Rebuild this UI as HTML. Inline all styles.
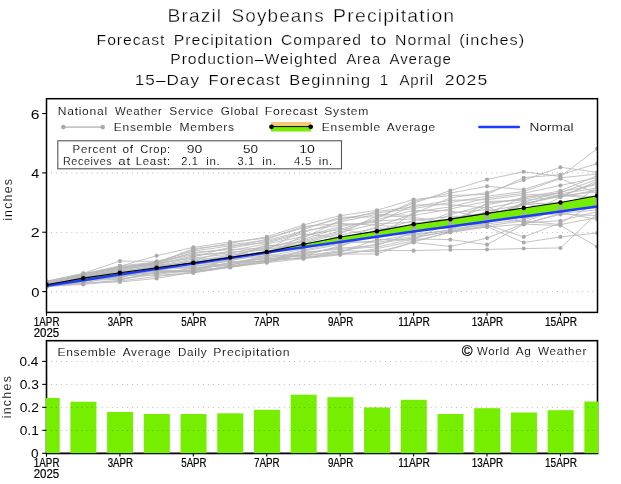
<!DOCTYPE html>
<html><head><meta charset="utf-8"><style>html,body{margin:0;padding:0;background:#fff;}svg{display:block;will-change:transform;}text{font-family:"Liberation Sans", sans-serif;}</style></head><body>
<svg width="621" height="484" viewBox="0 0 621 484" font-family='"Liberation Sans", sans-serif'>
<rect width="621" height="484" fill="#fff"/>
<defs><clipPath id="c1"><rect x="46.5" y="98.7" width="551" height="213.7"/></clipPath><clipPath id="c2"><rect x="46.5" y="340.7" width="551" height="112.5"/></clipPath><clipPath id="c2b"><rect x="45.7" y="340.7" width="552.6" height="113.3"/></clipPath></defs>
<g id="top" clip-path="url(#c1)">
<polyline fill="none" stroke="#b8b8b8" stroke-width="0.85" points="46.50,281.53 83.21,273.64 119.92,267.75 156.63,262.96 193.34,248.64 230.05,244.62 266.76,240.45 303.47,230.91 340.18,224.95 376.89,222.42 413.60,205.01 450.31,204.70 487.02,207.99 523.73,201.32 560.44,206.99 597.15,200.70"/>
<polyline fill="none" stroke="#b8b8b8" stroke-width="0.85" points="46.50,286.52 83.21,284.43 119.92,281.03 156.63,276.50 193.34,272.77 230.05,267.38 266.76,262.60 303.47,258.71 340.18,254.83 376.89,248.61 413.60,241.05 450.31,232.40 487.02,226.54 523.73,242.57 560.44,236.89 597.15,233.00"/>
<polyline fill="none" stroke="#b8b8b8" stroke-width="0.85" points="46.50,284.11 83.21,275.09 119.92,273.18 156.63,273.69 193.34,268.09 230.05,264.90 266.76,257.93 303.47,251.14 340.18,244.50 376.89,229.35 413.60,231.21 450.31,214.68 487.02,204.77 523.73,197.82 560.44,190.84 597.15,175.80"/>
<polyline fill="none" stroke="#b8b8b8" stroke-width="0.85" points="46.50,286.38 83.21,278.91 119.92,277.64 156.63,269.86 193.34,267.35 230.05,265.45 266.76,254.74 303.47,256.54 340.18,250.38 376.89,251.98 413.60,242.57 450.31,246.45 487.02,238.08 523.73,223.66 560.44,214.46 597.15,186.38"/>
<polyline fill="none" stroke="#b8b8b8" stroke-width="0.85" points="46.50,286.24 83.21,277.56 119.92,269.67 156.63,263.77 193.34,252.38 230.05,249.60 266.76,248.13 303.47,237.92 340.18,220.36 376.89,211.61 413.60,206.81 450.31,200.23 487.02,199.73 523.73,194.89 560.44,193.69 597.15,188.15"/>
<polyline fill="none" stroke="#b8b8b8" stroke-width="0.85" points="46.50,285.21 83.21,283.01 119.92,275.89 156.63,268.28 193.34,262.18 230.05,256.15 266.76,247.09 303.47,246.74 340.18,240.63 376.89,226.56 413.60,213.82 450.31,197.90 487.02,192.63 523.73,180.08 560.44,167.22 597.15,172.30"/>
<polyline fill="none" stroke="#b8b8b8" stroke-width="0.85" points="46.50,286.52 83.21,282.50 119.92,282.03 156.63,278.45 193.34,272.03 230.05,265.94 266.76,262.05 303.47,250.09 340.18,243.24 376.89,240.88 413.60,233.98 450.31,230.58 487.02,221.83 523.73,203.01 560.44,212.35 597.15,219.54"/>
<polyline fill="none" stroke="#b8b8b8" stroke-width="0.85" points="46.50,285.39 83.21,280.76 119.92,276.46 156.63,271.01 193.34,272.37 230.05,266.74 266.76,262.39 303.47,254.05 340.18,246.95 376.89,230.76 413.60,220.50 450.31,216.46 487.02,215.44 523.73,203.65 560.44,196.46 597.15,182.84"/>
<polyline fill="none" stroke="#b8b8b8" stroke-width="0.85" points="46.50,286.46 83.21,283.59 119.92,280.26 156.63,272.27 193.34,271.16 230.05,262.27 266.76,258.65 303.47,258.38 340.18,251.43 376.89,243.90 413.60,237.80 450.31,231.27 487.02,225.81 523.73,220.88 560.44,224.60 597.15,217.49"/>
<polyline fill="none" stroke="#b8b8b8" stroke-width="0.85" points="46.50,281.14 83.21,273.36 119.92,261.10 156.63,261.40 193.34,251.16 230.05,245.91 266.76,242.74 303.47,233.78 340.18,237.94 376.89,232.17 413.60,226.80 450.31,212.82 487.02,209.55 523.73,214.46 560.44,214.05 597.15,215.54"/>
<polyline fill="none" stroke="#b8b8b8" stroke-width="0.85" points="46.50,284.36 83.21,275.99 119.92,266.81 156.63,262.56 193.34,249.91 230.05,243.31 266.76,236.89 303.47,224.93 340.18,215.66 376.89,210.27 413.60,199.51 450.31,195.51 487.02,194.44 523.73,177.68 560.44,174.69 597.15,163.63"/>
<polyline fill="none" stroke="#b8b8b8" stroke-width="0.85" points="46.50,286.07 83.21,279.62 119.92,278.89 156.63,274.49 193.34,270.07 230.05,267.27 266.76,261.12 303.47,257.87 340.18,254.19 376.89,253.93 413.60,241.93 450.31,232.21 487.02,227.02 523.73,224.13 560.44,225.52 597.15,246.75"/>
<polyline fill="none" stroke="#b8b8b8" stroke-width="0.85" points="46.50,285.96 83.21,281.16 119.92,273.71 156.63,268.79 193.34,266.58 230.05,260.71 266.76,253.87 303.47,244.35 340.18,239.30 376.89,233.60 413.60,235.30 450.31,229.78 487.02,214.02 523.73,196.41 560.44,195.90 597.15,191.71"/>
<polyline fill="none" stroke="#b8b8b8" stroke-width="0.85" points="46.50,286.42 83.21,280.37 119.92,279.55 156.63,271.63 193.34,271.63 230.05,266.37 266.76,259.33 303.47,254.93 340.18,252.43 376.89,239.40 413.60,240.05 450.31,221.35 487.02,206.39 523.73,222.95 560.44,220.74 597.15,211.74"/>
<polyline fill="none" stroke="#b8b8b8" stroke-width="0.85" points="46.50,286.51 83.21,282.03 119.92,272.15 156.63,265.47 193.34,259.16 230.05,258.08 266.76,244.95 303.47,247.89 340.18,241.95 376.89,242.38 413.60,236.58 450.31,231.82 487.02,222.95 523.73,204.46 560.44,202.50 597.15,204.34"/>
<polyline fill="none" stroke="#b8b8b8" stroke-width="0.85" points="46.50,286.16 83.21,276.29 119.92,269.18 156.63,265.03 193.34,263.12 230.05,257.14 266.76,251.10 303.47,243.12 340.18,233.76 376.89,215.63 413.60,217.21 450.31,222.82 487.02,203.12 523.73,199.11 560.44,192.81 597.15,179.31"/>
<polyline fill="none" stroke="#b8b8b8" stroke-width="0.85" points="46.50,283.84 83.21,274.50 119.92,268.70 156.63,261.78 193.34,253.58 230.05,248.40 266.76,241.61 303.47,232.35 340.18,221.90 376.89,214.28 413.60,215.53 450.31,208.90 487.02,201.44 523.73,200.27 560.44,196.88 597.15,181.07"/>
<polyline fill="none" stroke="#b8b8b8" stroke-width="0.85" points="46.50,285.55 83.21,277.89 119.92,278.25 156.63,266.36 193.34,261.20 230.05,255.14 266.76,252.05 303.47,240.57 340.18,230.88 376.89,219.69 413.60,210.36 450.31,210.89 487.02,218.14 523.73,204.14 560.44,195.25 597.15,198.89"/>
<polyline fill="none" stroke="#b8b8b8" stroke-width="0.85" points="46.50,282.95 83.21,274.21 119.92,266.35 156.63,255.72 193.34,247.35 230.05,241.97 266.76,238.09 303.47,227.95 340.18,218.80 376.89,212.94 413.60,208.59 450.31,202.50 487.02,196.23 523.73,191.50 560.44,178.58 597.15,193.50"/>
<polyline fill="none" stroke="#b8b8b8" stroke-width="0.85" points="46.50,285.02 83.21,278.22 119.92,270.65 156.63,270.43 193.34,270.64 230.05,258.99 266.76,252.97 303.47,239.26 340.18,227.95 376.89,237.93 413.60,212.10 450.31,206.83 487.02,197.99 523.73,193.25 560.44,185.46 597.15,177.56"/>
<polyline fill="none" stroke="#b8b8b8" stroke-width="0.85" points="46.50,284.59 83.21,278.56 119.92,271.65 156.63,266.83 193.34,264.03 230.05,261.51 266.76,261.62 303.47,253.12 340.18,248.13 376.89,245.44 413.60,232.62 450.31,218.17 487.02,212.57 523.73,218.04 560.44,211.22 597.15,206.17"/>
<polyline fill="none" stroke="#b8b8b8" stroke-width="0.85" points="46.50,282.27 83.21,273.93 119.92,265.89 156.63,262.17 193.34,254.75 230.05,253.02 266.76,246.03 303.47,241.86 340.18,232.33 376.89,223.79 413.60,222.12 450.31,226.72 487.02,211.07 523.73,204.59 560.44,194.51 597.15,197.09"/>
<polyline fill="none" stroke="#b8b8b8" stroke-width="0.85" points="46.50,283.26 83.21,274.79 119.92,268.22 156.63,263.36 193.34,258.10 230.05,254.09 266.76,249.14 303.47,245.56 340.18,236.57 376.89,236.48 413.60,225.26 450.31,219.80 487.02,219.42 523.73,202.23 560.44,191.85 597.15,184.60"/>
<polyline fill="none" stroke="#b8b8b8" stroke-width="0.85" points="46.50,286.32 83.21,279.99 119.92,275.33 156.63,275.40 193.34,272.63 230.05,267.05 266.76,259.97 303.47,252.15 340.18,249.27 376.89,247.00 413.60,238.96 450.31,239.58 487.02,244.66 523.73,224.33 560.44,213.31 597.15,209.87"/>
<polyline fill="none" stroke="#b8b8b8" stroke-width="0.85" points="46.50,284.81 83.21,279.26 119.92,277.04 156.63,267.30 193.34,260.20 230.05,250.77 266.76,243.86 303.47,236.56 340.18,226.46 376.89,221.05 413.60,218.87 450.31,225.51 487.02,223.99 523.73,219.55 560.44,209.94 597.15,208.01"/>
<polyline fill="none" stroke="#b8b8b8" stroke-width="0.85" points="46.50,283.56 83.21,275.68 119.92,270.15 156.63,264.18 193.34,255.89 230.05,251.91 266.76,250.13 303.47,229.44 340.18,217.24 376.89,216.97 413.60,203.19 450.31,190.54 487.02,179.48 523.73,171.70 560.44,176.46 597.15,148.68"/>
<polyline fill="none" stroke="#b8b8b8" stroke-width="0.85" points="46.50,281.91 83.21,275.38 119.92,267.28 156.63,264.60 193.34,257.01 230.05,247.17 266.76,239.28 303.47,226.45 340.18,223.43 376.89,225.17 413.60,228.30 450.31,227.84 487.02,220.66 523.73,216.34 560.44,197.12 597.15,189.93"/>
<polyline fill="none" stroke="#b8b8b8" stroke-width="0.85" points="46.50,285.83 83.21,276.92 119.92,274.78 156.63,272.95 193.34,269.45 230.05,264.31 266.76,260.57 303.47,257.24 340.18,253.36 376.89,250.25 413.60,250.64 450.31,249.74 487.02,249.44 523.73,248.55 560.44,247.95 597.15,213.62"/>
<polyline fill="none" stroke="#b8b8b8" stroke-width="0.85" points="46.50,285.70 83.21,277.24 119.92,272.67 156.63,269.32 193.34,265.76 230.05,263.68 266.76,257.18 303.47,255.77 340.18,245.74 376.89,235.03 413.60,223.70 450.31,228.86 487.02,224.95 523.73,236.89 560.44,222.91 597.15,202.52"/>
<polyline fill="none" stroke="#b8b8b8" stroke-width="0.85" points="46.50,282.62 83.21,276.60 119.92,271.14 156.63,265.91 193.34,268.79 230.05,263.00 266.76,256.40 303.47,249.01 340.18,235.17 376.89,227.95 413.60,229.77 450.31,224.21 487.02,216.81 523.73,222.02 560.44,208.52 597.15,195.29"/>
<polyline fill="none" stroke="#b8b8b8" stroke-width="0.85" points="46.50,286.49 83.21,281.59 119.92,274.24 156.63,267.79 193.34,264.91 230.05,259.87 266.76,255.58 303.47,235.18 340.18,229.42 376.89,218.33 413.60,201.36 450.31,193.06 487.02,186.35 523.73,189.64 560.44,177.83 597.15,174.05"/>
<line x1="51.2" x2="597" y1="291.70" y2="291.70" stroke="#222" stroke-width="0.6" stroke-dasharray="0.8 4.26" opacity="0.7"/>
<line x1="51.2" x2="597" y1="232.34" y2="232.34" stroke="#222" stroke-width="0.6" stroke-dasharray="0.8 4.26" opacity="0.7"/>
<line x1="51.2" x2="597" y1="172.98" y2="172.98" stroke="#222" stroke-width="0.6" stroke-dasharray="0.8 4.26" opacity="0.7"/>
<polygon fill="#76ee00" points="46.50,284.83 83.21,278.16 119.92,272.83 156.63,267.75 193.34,262.67 230.05,257.51 266.76,251.89 303.47,244.32 340.18,237.07 376.89,231.15 413.60,224.24 450.31,219.16 487.02,213.34 523.73,208.07 560.44,202.50 597.15,195.81 597.15,206.57 560.44,211.51 523.73,216.47 487.02,221.46 450.31,226.49 413.60,231.57 376.89,236.71 340.18,241.92 303.47,247.21 266.76,252.56 230.05,257.98 193.34,263.47 156.63,269.00 119.92,274.58 83.21,280.19 46.50,285.81"/>
<circle cx="46.50" cy="286.52" r="2.05" fill="#aaaaaa"/>
<circle cx="46.50" cy="286.52" r="2.05" fill="#aaaaaa"/>
<circle cx="46.50" cy="286.51" r="2.05" fill="#aaaaaa"/>
<circle cx="46.50" cy="286.49" r="2.05" fill="#aaaaaa"/>
<circle cx="46.50" cy="286.46" r="2.05" fill="#aaaaaa"/>
<circle cx="46.50" cy="286.42" r="2.05" fill="#aaaaaa"/>
<circle cx="46.50" cy="286.38" r="2.05" fill="#aaaaaa"/>
<circle cx="46.50" cy="286.32" r="2.05" fill="#aaaaaa"/>
<circle cx="46.50" cy="286.24" r="2.05" fill="#aaaaaa"/>
<circle cx="46.50" cy="286.16" r="2.05" fill="#aaaaaa"/>
<circle cx="46.50" cy="286.07" r="2.05" fill="#aaaaaa"/>
<circle cx="46.50" cy="285.96" r="2.05" fill="#aaaaaa"/>
<circle cx="46.50" cy="285.83" r="2.05" fill="#aaaaaa"/>
<circle cx="46.50" cy="285.70" r="2.05" fill="#aaaaaa"/>
<circle cx="46.50" cy="285.55" r="2.05" fill="#aaaaaa"/>
<circle cx="46.50" cy="285.39" r="2.05" fill="#aaaaaa"/>
<circle cx="46.50" cy="285.21" r="2.05" fill="#aaaaaa"/>
<circle cx="46.50" cy="285.02" r="2.05" fill="#aaaaaa"/>
<circle cx="46.50" cy="284.81" r="2.05" fill="#aaaaaa"/>
<circle cx="46.50" cy="284.59" r="2.05" fill="#aaaaaa"/>
<circle cx="46.50" cy="284.36" r="2.05" fill="#aaaaaa"/>
<circle cx="46.50" cy="284.11" r="2.05" fill="#aaaaaa"/>
<circle cx="46.50" cy="283.84" r="2.05" fill="#aaaaaa"/>
<circle cx="46.50" cy="283.56" r="2.05" fill="#aaaaaa"/>
<circle cx="46.50" cy="283.26" r="2.05" fill="#aaaaaa"/>
<circle cx="46.50" cy="282.95" r="2.05" fill="#aaaaaa"/>
<circle cx="46.50" cy="282.62" r="2.05" fill="#aaaaaa"/>
<circle cx="46.50" cy="282.27" r="2.05" fill="#aaaaaa"/>
<circle cx="46.50" cy="281.91" r="2.05" fill="#aaaaaa"/>
<circle cx="46.50" cy="281.53" r="2.05" fill="#aaaaaa"/>
<circle cx="46.50" cy="281.14" r="2.05" fill="#aaaaaa"/>
<circle cx="83.21" cy="284.43" r="2.05" fill="#aaaaaa"/>
<circle cx="83.21" cy="283.59" r="2.05" fill="#aaaaaa"/>
<circle cx="83.21" cy="283.01" r="2.05" fill="#aaaaaa"/>
<circle cx="83.21" cy="282.50" r="2.05" fill="#aaaaaa"/>
<circle cx="83.21" cy="282.03" r="2.05" fill="#aaaaaa"/>
<circle cx="83.21" cy="281.59" r="2.05" fill="#aaaaaa"/>
<circle cx="83.21" cy="281.16" r="2.05" fill="#aaaaaa"/>
<circle cx="83.21" cy="280.76" r="2.05" fill="#aaaaaa"/>
<circle cx="83.21" cy="280.37" r="2.05" fill="#aaaaaa"/>
<circle cx="83.21" cy="279.99" r="2.05" fill="#aaaaaa"/>
<circle cx="83.21" cy="279.62" r="2.05" fill="#aaaaaa"/>
<circle cx="83.21" cy="279.26" r="2.05" fill="#aaaaaa"/>
<circle cx="83.21" cy="278.91" r="2.05" fill="#aaaaaa"/>
<circle cx="83.21" cy="278.56" r="2.05" fill="#aaaaaa"/>
<circle cx="83.21" cy="278.22" r="2.05" fill="#aaaaaa"/>
<circle cx="83.21" cy="277.89" r="2.05" fill="#aaaaaa"/>
<circle cx="83.21" cy="277.56" r="2.05" fill="#aaaaaa"/>
<circle cx="83.21" cy="277.24" r="2.05" fill="#aaaaaa"/>
<circle cx="83.21" cy="276.92" r="2.05" fill="#aaaaaa"/>
<circle cx="83.21" cy="276.60" r="2.05" fill="#aaaaaa"/>
<circle cx="83.21" cy="276.29" r="2.05" fill="#aaaaaa"/>
<circle cx="83.21" cy="275.99" r="2.05" fill="#aaaaaa"/>
<circle cx="83.21" cy="275.68" r="2.05" fill="#aaaaaa"/>
<circle cx="83.21" cy="275.38" r="2.05" fill="#aaaaaa"/>
<circle cx="83.21" cy="275.09" r="2.05" fill="#aaaaaa"/>
<circle cx="83.21" cy="274.79" r="2.05" fill="#aaaaaa"/>
<circle cx="83.21" cy="274.50" r="2.05" fill="#aaaaaa"/>
<circle cx="83.21" cy="274.21" r="2.05" fill="#aaaaaa"/>
<circle cx="83.21" cy="273.93" r="2.05" fill="#aaaaaa"/>
<circle cx="83.21" cy="273.64" r="2.05" fill="#aaaaaa"/>
<circle cx="83.21" cy="273.36" r="2.05" fill="#aaaaaa"/>
<circle cx="119.92" cy="282.03" r="2.05" fill="#aaaaaa"/>
<circle cx="119.92" cy="281.03" r="2.05" fill="#aaaaaa"/>
<circle cx="119.92" cy="280.26" r="2.05" fill="#aaaaaa"/>
<circle cx="119.92" cy="279.55" r="2.05" fill="#aaaaaa"/>
<circle cx="119.92" cy="278.89" r="2.05" fill="#aaaaaa"/>
<circle cx="119.92" cy="278.25" r="2.05" fill="#aaaaaa"/>
<circle cx="119.92" cy="277.64" r="2.05" fill="#aaaaaa"/>
<circle cx="119.92" cy="277.04" r="2.05" fill="#aaaaaa"/>
<circle cx="119.92" cy="276.46" r="2.05" fill="#aaaaaa"/>
<circle cx="119.92" cy="275.89" r="2.05" fill="#aaaaaa"/>
<circle cx="119.92" cy="275.33" r="2.05" fill="#aaaaaa"/>
<circle cx="119.92" cy="274.78" r="2.05" fill="#aaaaaa"/>
<circle cx="119.92" cy="274.24" r="2.05" fill="#aaaaaa"/>
<circle cx="119.92" cy="273.71" r="2.05" fill="#aaaaaa"/>
<circle cx="119.92" cy="273.18" r="2.05" fill="#aaaaaa"/>
<circle cx="119.92" cy="272.67" r="2.05" fill="#aaaaaa"/>
<circle cx="119.92" cy="272.15" r="2.05" fill="#aaaaaa"/>
<circle cx="119.92" cy="271.65" r="2.05" fill="#aaaaaa"/>
<circle cx="119.92" cy="271.14" r="2.05" fill="#aaaaaa"/>
<circle cx="119.92" cy="270.65" r="2.05" fill="#aaaaaa"/>
<circle cx="119.92" cy="270.15" r="2.05" fill="#aaaaaa"/>
<circle cx="119.92" cy="269.67" r="2.05" fill="#aaaaaa"/>
<circle cx="119.92" cy="269.18" r="2.05" fill="#aaaaaa"/>
<circle cx="119.92" cy="268.70" r="2.05" fill="#aaaaaa"/>
<circle cx="119.92" cy="268.22" r="2.05" fill="#aaaaaa"/>
<circle cx="119.92" cy="267.75" r="2.05" fill="#aaaaaa"/>
<circle cx="119.92" cy="267.28" r="2.05" fill="#aaaaaa"/>
<circle cx="119.92" cy="266.81" r="2.05" fill="#aaaaaa"/>
<circle cx="119.92" cy="266.35" r="2.05" fill="#aaaaaa"/>
<circle cx="119.92" cy="265.89" r="2.05" fill="#aaaaaa"/>
<circle cx="119.92" cy="261.10" r="2.05" fill="#aaaaaa"/>
<circle cx="156.63" cy="278.45" r="2.05" fill="#aaaaaa"/>
<circle cx="156.63" cy="276.50" r="2.05" fill="#aaaaaa"/>
<circle cx="156.63" cy="275.40" r="2.05" fill="#aaaaaa"/>
<circle cx="156.63" cy="274.49" r="2.05" fill="#aaaaaa"/>
<circle cx="156.63" cy="273.69" r="2.05" fill="#aaaaaa"/>
<circle cx="156.63" cy="272.95" r="2.05" fill="#aaaaaa"/>
<circle cx="156.63" cy="272.27" r="2.05" fill="#aaaaaa"/>
<circle cx="156.63" cy="271.63" r="2.05" fill="#aaaaaa"/>
<circle cx="156.63" cy="271.01" r="2.05" fill="#aaaaaa"/>
<circle cx="156.63" cy="270.43" r="2.05" fill="#aaaaaa"/>
<circle cx="156.63" cy="269.86" r="2.05" fill="#aaaaaa"/>
<circle cx="156.63" cy="269.32" r="2.05" fill="#aaaaaa"/>
<circle cx="156.63" cy="268.79" r="2.05" fill="#aaaaaa"/>
<circle cx="156.63" cy="268.28" r="2.05" fill="#aaaaaa"/>
<circle cx="156.63" cy="267.79" r="2.05" fill="#aaaaaa"/>
<circle cx="156.63" cy="267.30" r="2.05" fill="#aaaaaa"/>
<circle cx="156.63" cy="266.83" r="2.05" fill="#aaaaaa"/>
<circle cx="156.63" cy="266.36" r="2.05" fill="#aaaaaa"/>
<circle cx="156.63" cy="265.91" r="2.05" fill="#aaaaaa"/>
<circle cx="156.63" cy="265.47" r="2.05" fill="#aaaaaa"/>
<circle cx="156.63" cy="265.03" r="2.05" fill="#aaaaaa"/>
<circle cx="156.63" cy="264.60" r="2.05" fill="#aaaaaa"/>
<circle cx="156.63" cy="264.18" r="2.05" fill="#aaaaaa"/>
<circle cx="156.63" cy="263.77" r="2.05" fill="#aaaaaa"/>
<circle cx="156.63" cy="263.36" r="2.05" fill="#aaaaaa"/>
<circle cx="156.63" cy="262.96" r="2.05" fill="#aaaaaa"/>
<circle cx="156.63" cy="262.56" r="2.05" fill="#aaaaaa"/>
<circle cx="156.63" cy="262.17" r="2.05" fill="#aaaaaa"/>
<circle cx="156.63" cy="261.78" r="2.05" fill="#aaaaaa"/>
<circle cx="156.63" cy="261.40" r="2.05" fill="#aaaaaa"/>
<circle cx="156.63" cy="255.72" r="2.05" fill="#aaaaaa"/>
<circle cx="193.34" cy="272.77" r="2.05" fill="#aaaaaa"/>
<circle cx="193.34" cy="272.63" r="2.05" fill="#aaaaaa"/>
<circle cx="193.34" cy="272.37" r="2.05" fill="#aaaaaa"/>
<circle cx="193.34" cy="272.03" r="2.05" fill="#aaaaaa"/>
<circle cx="193.34" cy="271.63" r="2.05" fill="#aaaaaa"/>
<circle cx="193.34" cy="271.16" r="2.05" fill="#aaaaaa"/>
<circle cx="193.34" cy="270.64" r="2.05" fill="#aaaaaa"/>
<circle cx="193.34" cy="270.07" r="2.05" fill="#aaaaaa"/>
<circle cx="193.34" cy="269.45" r="2.05" fill="#aaaaaa"/>
<circle cx="193.34" cy="268.79" r="2.05" fill="#aaaaaa"/>
<circle cx="193.34" cy="268.09" r="2.05" fill="#aaaaaa"/>
<circle cx="193.34" cy="267.35" r="2.05" fill="#aaaaaa"/>
<circle cx="193.34" cy="266.58" r="2.05" fill="#aaaaaa"/>
<circle cx="193.34" cy="265.76" r="2.05" fill="#aaaaaa"/>
<circle cx="193.34" cy="264.91" r="2.05" fill="#aaaaaa"/>
<circle cx="193.34" cy="264.03" r="2.05" fill="#aaaaaa"/>
<circle cx="193.34" cy="263.12" r="2.05" fill="#aaaaaa"/>
<circle cx="193.34" cy="262.18" r="2.05" fill="#aaaaaa"/>
<circle cx="193.34" cy="261.20" r="2.05" fill="#aaaaaa"/>
<circle cx="193.34" cy="260.20" r="2.05" fill="#aaaaaa"/>
<circle cx="193.34" cy="259.16" r="2.05" fill="#aaaaaa"/>
<circle cx="193.34" cy="258.10" r="2.05" fill="#aaaaaa"/>
<circle cx="193.34" cy="257.01" r="2.05" fill="#aaaaaa"/>
<circle cx="193.34" cy="255.89" r="2.05" fill="#aaaaaa"/>
<circle cx="193.34" cy="254.75" r="2.05" fill="#aaaaaa"/>
<circle cx="193.34" cy="253.58" r="2.05" fill="#aaaaaa"/>
<circle cx="193.34" cy="252.38" r="2.05" fill="#aaaaaa"/>
<circle cx="193.34" cy="251.16" r="2.05" fill="#aaaaaa"/>
<circle cx="193.34" cy="249.91" r="2.05" fill="#aaaaaa"/>
<circle cx="193.34" cy="248.64" r="2.05" fill="#aaaaaa"/>
<circle cx="193.34" cy="247.35" r="2.05" fill="#aaaaaa"/>
<circle cx="230.05" cy="267.38" r="2.05" fill="#aaaaaa"/>
<circle cx="230.05" cy="267.27" r="2.05" fill="#aaaaaa"/>
<circle cx="230.05" cy="267.05" r="2.05" fill="#aaaaaa"/>
<circle cx="230.05" cy="266.74" r="2.05" fill="#aaaaaa"/>
<circle cx="230.05" cy="266.37" r="2.05" fill="#aaaaaa"/>
<circle cx="230.05" cy="265.94" r="2.05" fill="#aaaaaa"/>
<circle cx="230.05" cy="265.45" r="2.05" fill="#aaaaaa"/>
<circle cx="230.05" cy="264.90" r="2.05" fill="#aaaaaa"/>
<circle cx="230.05" cy="264.31" r="2.05" fill="#aaaaaa"/>
<circle cx="230.05" cy="263.68" r="2.05" fill="#aaaaaa"/>
<circle cx="230.05" cy="263.00" r="2.05" fill="#aaaaaa"/>
<circle cx="230.05" cy="262.27" r="2.05" fill="#aaaaaa"/>
<circle cx="230.05" cy="261.51" r="2.05" fill="#aaaaaa"/>
<circle cx="230.05" cy="260.71" r="2.05" fill="#aaaaaa"/>
<circle cx="230.05" cy="259.87" r="2.05" fill="#aaaaaa"/>
<circle cx="230.05" cy="258.99" r="2.05" fill="#aaaaaa"/>
<circle cx="230.05" cy="258.08" r="2.05" fill="#aaaaaa"/>
<circle cx="230.05" cy="257.14" r="2.05" fill="#aaaaaa"/>
<circle cx="230.05" cy="256.15" r="2.05" fill="#aaaaaa"/>
<circle cx="230.05" cy="255.14" r="2.05" fill="#aaaaaa"/>
<circle cx="230.05" cy="254.09" r="2.05" fill="#aaaaaa"/>
<circle cx="230.05" cy="253.02" r="2.05" fill="#aaaaaa"/>
<circle cx="230.05" cy="251.91" r="2.05" fill="#aaaaaa"/>
<circle cx="230.05" cy="250.77" r="2.05" fill="#aaaaaa"/>
<circle cx="230.05" cy="249.60" r="2.05" fill="#aaaaaa"/>
<circle cx="230.05" cy="248.40" r="2.05" fill="#aaaaaa"/>
<circle cx="230.05" cy="247.17" r="2.05" fill="#aaaaaa"/>
<circle cx="230.05" cy="245.91" r="2.05" fill="#aaaaaa"/>
<circle cx="230.05" cy="244.62" r="2.05" fill="#aaaaaa"/>
<circle cx="230.05" cy="243.31" r="2.05" fill="#aaaaaa"/>
<circle cx="230.05" cy="241.97" r="2.05" fill="#aaaaaa"/>
<circle cx="266.76" cy="262.60" r="2.05" fill="#aaaaaa"/>
<circle cx="266.76" cy="262.39" r="2.05" fill="#aaaaaa"/>
<circle cx="266.76" cy="262.05" r="2.05" fill="#aaaaaa"/>
<circle cx="266.76" cy="261.62" r="2.05" fill="#aaaaaa"/>
<circle cx="266.76" cy="261.12" r="2.05" fill="#aaaaaa"/>
<circle cx="266.76" cy="260.57" r="2.05" fill="#aaaaaa"/>
<circle cx="266.76" cy="259.97" r="2.05" fill="#aaaaaa"/>
<circle cx="266.76" cy="259.33" r="2.05" fill="#aaaaaa"/>
<circle cx="266.76" cy="258.65" r="2.05" fill="#aaaaaa"/>
<circle cx="266.76" cy="257.93" r="2.05" fill="#aaaaaa"/>
<circle cx="266.76" cy="257.18" r="2.05" fill="#aaaaaa"/>
<circle cx="266.76" cy="256.40" r="2.05" fill="#aaaaaa"/>
<circle cx="266.76" cy="255.58" r="2.05" fill="#aaaaaa"/>
<circle cx="266.76" cy="254.74" r="2.05" fill="#aaaaaa"/>
<circle cx="266.76" cy="253.87" r="2.05" fill="#aaaaaa"/>
<circle cx="266.76" cy="252.97" r="2.05" fill="#aaaaaa"/>
<circle cx="266.76" cy="252.05" r="2.05" fill="#aaaaaa"/>
<circle cx="266.76" cy="251.10" r="2.05" fill="#aaaaaa"/>
<circle cx="266.76" cy="250.13" r="2.05" fill="#aaaaaa"/>
<circle cx="266.76" cy="249.14" r="2.05" fill="#aaaaaa"/>
<circle cx="266.76" cy="248.13" r="2.05" fill="#aaaaaa"/>
<circle cx="266.76" cy="247.09" r="2.05" fill="#aaaaaa"/>
<circle cx="266.76" cy="246.03" r="2.05" fill="#aaaaaa"/>
<circle cx="266.76" cy="244.95" r="2.05" fill="#aaaaaa"/>
<circle cx="266.76" cy="243.86" r="2.05" fill="#aaaaaa"/>
<circle cx="266.76" cy="242.74" r="2.05" fill="#aaaaaa"/>
<circle cx="266.76" cy="241.61" r="2.05" fill="#aaaaaa"/>
<circle cx="266.76" cy="240.45" r="2.05" fill="#aaaaaa"/>
<circle cx="266.76" cy="239.28" r="2.05" fill="#aaaaaa"/>
<circle cx="266.76" cy="238.09" r="2.05" fill="#aaaaaa"/>
<circle cx="266.76" cy="236.89" r="2.05" fill="#aaaaaa"/>
<circle cx="303.47" cy="258.71" r="2.05" fill="#aaaaaa"/>
<circle cx="303.47" cy="258.38" r="2.05" fill="#aaaaaa"/>
<circle cx="303.47" cy="257.87" r="2.05" fill="#aaaaaa"/>
<circle cx="303.47" cy="257.24" r="2.05" fill="#aaaaaa"/>
<circle cx="303.47" cy="256.54" r="2.05" fill="#aaaaaa"/>
<circle cx="303.47" cy="255.77" r="2.05" fill="#aaaaaa"/>
<circle cx="303.47" cy="254.93" r="2.05" fill="#aaaaaa"/>
<circle cx="303.47" cy="254.05" r="2.05" fill="#aaaaaa"/>
<circle cx="303.47" cy="253.12" r="2.05" fill="#aaaaaa"/>
<circle cx="303.47" cy="252.15" r="2.05" fill="#aaaaaa"/>
<circle cx="303.47" cy="251.14" r="2.05" fill="#aaaaaa"/>
<circle cx="303.47" cy="250.09" r="2.05" fill="#aaaaaa"/>
<circle cx="303.47" cy="249.01" r="2.05" fill="#aaaaaa"/>
<circle cx="303.47" cy="247.89" r="2.05" fill="#aaaaaa"/>
<circle cx="303.47" cy="246.74" r="2.05" fill="#aaaaaa"/>
<circle cx="303.47" cy="245.56" r="2.05" fill="#aaaaaa"/>
<circle cx="303.47" cy="244.35" r="2.05" fill="#aaaaaa"/>
<circle cx="303.47" cy="243.12" r="2.05" fill="#aaaaaa"/>
<circle cx="303.47" cy="241.86" r="2.05" fill="#aaaaaa"/>
<circle cx="303.47" cy="240.57" r="2.05" fill="#aaaaaa"/>
<circle cx="303.47" cy="239.26" r="2.05" fill="#aaaaaa"/>
<circle cx="303.47" cy="237.92" r="2.05" fill="#aaaaaa"/>
<circle cx="303.47" cy="236.56" r="2.05" fill="#aaaaaa"/>
<circle cx="303.47" cy="235.18" r="2.05" fill="#aaaaaa"/>
<circle cx="303.47" cy="233.78" r="2.05" fill="#aaaaaa"/>
<circle cx="303.47" cy="232.35" r="2.05" fill="#aaaaaa"/>
<circle cx="303.47" cy="230.91" r="2.05" fill="#aaaaaa"/>
<circle cx="303.47" cy="229.44" r="2.05" fill="#aaaaaa"/>
<circle cx="303.47" cy="227.95" r="2.05" fill="#aaaaaa"/>
<circle cx="303.47" cy="226.45" r="2.05" fill="#aaaaaa"/>
<circle cx="303.47" cy="224.93" r="2.05" fill="#aaaaaa"/>
<circle cx="340.18" cy="254.83" r="2.05" fill="#aaaaaa"/>
<circle cx="340.18" cy="254.19" r="2.05" fill="#aaaaaa"/>
<circle cx="340.18" cy="253.36" r="2.05" fill="#aaaaaa"/>
<circle cx="340.18" cy="252.43" r="2.05" fill="#aaaaaa"/>
<circle cx="340.18" cy="251.43" r="2.05" fill="#aaaaaa"/>
<circle cx="340.18" cy="250.38" r="2.05" fill="#aaaaaa"/>
<circle cx="340.18" cy="249.27" r="2.05" fill="#aaaaaa"/>
<circle cx="340.18" cy="248.13" r="2.05" fill="#aaaaaa"/>
<circle cx="340.18" cy="246.95" r="2.05" fill="#aaaaaa"/>
<circle cx="340.18" cy="245.74" r="2.05" fill="#aaaaaa"/>
<circle cx="340.18" cy="244.50" r="2.05" fill="#aaaaaa"/>
<circle cx="340.18" cy="243.24" r="2.05" fill="#aaaaaa"/>
<circle cx="340.18" cy="241.95" r="2.05" fill="#aaaaaa"/>
<circle cx="340.18" cy="240.63" r="2.05" fill="#aaaaaa"/>
<circle cx="340.18" cy="239.30" r="2.05" fill="#aaaaaa"/>
<circle cx="340.18" cy="237.94" r="2.05" fill="#aaaaaa"/>
<circle cx="340.18" cy="236.57" r="2.05" fill="#aaaaaa"/>
<circle cx="340.18" cy="235.17" r="2.05" fill="#aaaaaa"/>
<circle cx="340.18" cy="233.76" r="2.05" fill="#aaaaaa"/>
<circle cx="340.18" cy="232.33" r="2.05" fill="#aaaaaa"/>
<circle cx="340.18" cy="230.88" r="2.05" fill="#aaaaaa"/>
<circle cx="340.18" cy="229.42" r="2.05" fill="#aaaaaa"/>
<circle cx="340.18" cy="227.95" r="2.05" fill="#aaaaaa"/>
<circle cx="340.18" cy="226.46" r="2.05" fill="#aaaaaa"/>
<circle cx="340.18" cy="224.95" r="2.05" fill="#aaaaaa"/>
<circle cx="340.18" cy="223.43" r="2.05" fill="#aaaaaa"/>
<circle cx="340.18" cy="221.90" r="2.05" fill="#aaaaaa"/>
<circle cx="340.18" cy="220.36" r="2.05" fill="#aaaaaa"/>
<circle cx="340.18" cy="218.80" r="2.05" fill="#aaaaaa"/>
<circle cx="340.18" cy="217.24" r="2.05" fill="#aaaaaa"/>
<circle cx="340.18" cy="215.66" r="2.05" fill="#aaaaaa"/>
<circle cx="376.89" cy="253.93" r="2.05" fill="#aaaaaa"/>
<circle cx="376.89" cy="251.98" r="2.05" fill="#aaaaaa"/>
<circle cx="376.89" cy="250.25" r="2.05" fill="#aaaaaa"/>
<circle cx="376.89" cy="248.61" r="2.05" fill="#aaaaaa"/>
<circle cx="376.89" cy="247.00" r="2.05" fill="#aaaaaa"/>
<circle cx="376.89" cy="245.44" r="2.05" fill="#aaaaaa"/>
<circle cx="376.89" cy="243.90" r="2.05" fill="#aaaaaa"/>
<circle cx="376.89" cy="242.38" r="2.05" fill="#aaaaaa"/>
<circle cx="376.89" cy="240.88" r="2.05" fill="#aaaaaa"/>
<circle cx="376.89" cy="239.40" r="2.05" fill="#aaaaaa"/>
<circle cx="376.89" cy="237.93" r="2.05" fill="#aaaaaa"/>
<circle cx="376.89" cy="236.48" r="2.05" fill="#aaaaaa"/>
<circle cx="376.89" cy="235.03" r="2.05" fill="#aaaaaa"/>
<circle cx="376.89" cy="233.60" r="2.05" fill="#aaaaaa"/>
<circle cx="376.89" cy="232.17" r="2.05" fill="#aaaaaa"/>
<circle cx="376.89" cy="230.76" r="2.05" fill="#aaaaaa"/>
<circle cx="376.89" cy="229.35" r="2.05" fill="#aaaaaa"/>
<circle cx="376.89" cy="227.95" r="2.05" fill="#aaaaaa"/>
<circle cx="376.89" cy="226.56" r="2.05" fill="#aaaaaa"/>
<circle cx="376.89" cy="225.17" r="2.05" fill="#aaaaaa"/>
<circle cx="376.89" cy="223.79" r="2.05" fill="#aaaaaa"/>
<circle cx="376.89" cy="222.42" r="2.05" fill="#aaaaaa"/>
<circle cx="376.89" cy="221.05" r="2.05" fill="#aaaaaa"/>
<circle cx="376.89" cy="219.69" r="2.05" fill="#aaaaaa"/>
<circle cx="376.89" cy="218.33" r="2.05" fill="#aaaaaa"/>
<circle cx="376.89" cy="216.97" r="2.05" fill="#aaaaaa"/>
<circle cx="376.89" cy="215.63" r="2.05" fill="#aaaaaa"/>
<circle cx="376.89" cy="214.28" r="2.05" fill="#aaaaaa"/>
<circle cx="376.89" cy="212.94" r="2.05" fill="#aaaaaa"/>
<circle cx="376.89" cy="211.61" r="2.05" fill="#aaaaaa"/>
<circle cx="376.89" cy="210.27" r="2.05" fill="#aaaaaa"/>
<circle cx="413.60" cy="250.64" r="2.05" fill="#aaaaaa"/>
<circle cx="413.60" cy="242.57" r="2.05" fill="#aaaaaa"/>
<circle cx="413.60" cy="241.93" r="2.05" fill="#aaaaaa"/>
<circle cx="413.60" cy="241.05" r="2.05" fill="#aaaaaa"/>
<circle cx="413.60" cy="240.05" r="2.05" fill="#aaaaaa"/>
<circle cx="413.60" cy="238.96" r="2.05" fill="#aaaaaa"/>
<circle cx="413.60" cy="237.80" r="2.05" fill="#aaaaaa"/>
<circle cx="413.60" cy="236.58" r="2.05" fill="#aaaaaa"/>
<circle cx="413.60" cy="235.30" r="2.05" fill="#aaaaaa"/>
<circle cx="413.60" cy="233.98" r="2.05" fill="#aaaaaa"/>
<circle cx="413.60" cy="232.62" r="2.05" fill="#aaaaaa"/>
<circle cx="413.60" cy="231.21" r="2.05" fill="#aaaaaa"/>
<circle cx="413.60" cy="229.77" r="2.05" fill="#aaaaaa"/>
<circle cx="413.60" cy="228.30" r="2.05" fill="#aaaaaa"/>
<circle cx="413.60" cy="226.80" r="2.05" fill="#aaaaaa"/>
<circle cx="413.60" cy="225.26" r="2.05" fill="#aaaaaa"/>
<circle cx="413.60" cy="223.70" r="2.05" fill="#aaaaaa"/>
<circle cx="413.60" cy="222.12" r="2.05" fill="#aaaaaa"/>
<circle cx="413.60" cy="220.50" r="2.05" fill="#aaaaaa"/>
<circle cx="413.60" cy="218.87" r="2.05" fill="#aaaaaa"/>
<circle cx="413.60" cy="217.21" r="2.05" fill="#aaaaaa"/>
<circle cx="413.60" cy="215.53" r="2.05" fill="#aaaaaa"/>
<circle cx="413.60" cy="213.82" r="2.05" fill="#aaaaaa"/>
<circle cx="413.60" cy="212.10" r="2.05" fill="#aaaaaa"/>
<circle cx="413.60" cy="210.36" r="2.05" fill="#aaaaaa"/>
<circle cx="413.60" cy="208.59" r="2.05" fill="#aaaaaa"/>
<circle cx="413.60" cy="206.81" r="2.05" fill="#aaaaaa"/>
<circle cx="413.60" cy="205.01" r="2.05" fill="#aaaaaa"/>
<circle cx="413.60" cy="203.19" r="2.05" fill="#aaaaaa"/>
<circle cx="413.60" cy="201.36" r="2.05" fill="#aaaaaa"/>
<circle cx="413.60" cy="199.51" r="2.05" fill="#aaaaaa"/>
<circle cx="450.31" cy="249.74" r="2.05" fill="#aaaaaa"/>
<circle cx="450.31" cy="246.45" r="2.05" fill="#aaaaaa"/>
<circle cx="450.31" cy="239.58" r="2.05" fill="#aaaaaa"/>
<circle cx="450.31" cy="232.40" r="2.05" fill="#aaaaaa"/>
<circle cx="450.31" cy="232.21" r="2.05" fill="#aaaaaa"/>
<circle cx="450.31" cy="231.82" r="2.05" fill="#aaaaaa"/>
<circle cx="450.31" cy="231.27" r="2.05" fill="#aaaaaa"/>
<circle cx="450.31" cy="230.58" r="2.05" fill="#aaaaaa"/>
<circle cx="450.31" cy="229.78" r="2.05" fill="#aaaaaa"/>
<circle cx="450.31" cy="228.86" r="2.05" fill="#aaaaaa"/>
<circle cx="450.31" cy="227.84" r="2.05" fill="#aaaaaa"/>
<circle cx="450.31" cy="226.72" r="2.05" fill="#aaaaaa"/>
<circle cx="450.31" cy="225.51" r="2.05" fill="#aaaaaa"/>
<circle cx="450.31" cy="224.21" r="2.05" fill="#aaaaaa"/>
<circle cx="450.31" cy="222.82" r="2.05" fill="#aaaaaa"/>
<circle cx="450.31" cy="221.35" r="2.05" fill="#aaaaaa"/>
<circle cx="450.31" cy="219.80" r="2.05" fill="#aaaaaa"/>
<circle cx="450.31" cy="218.17" r="2.05" fill="#aaaaaa"/>
<circle cx="450.31" cy="216.46" r="2.05" fill="#aaaaaa"/>
<circle cx="450.31" cy="214.68" r="2.05" fill="#aaaaaa"/>
<circle cx="450.31" cy="212.82" r="2.05" fill="#aaaaaa"/>
<circle cx="450.31" cy="210.89" r="2.05" fill="#aaaaaa"/>
<circle cx="450.31" cy="208.90" r="2.05" fill="#aaaaaa"/>
<circle cx="450.31" cy="206.83" r="2.05" fill="#aaaaaa"/>
<circle cx="450.31" cy="204.70" r="2.05" fill="#aaaaaa"/>
<circle cx="450.31" cy="202.50" r="2.05" fill="#aaaaaa"/>
<circle cx="450.31" cy="200.23" r="2.05" fill="#aaaaaa"/>
<circle cx="450.31" cy="197.90" r="2.05" fill="#aaaaaa"/>
<circle cx="450.31" cy="195.51" r="2.05" fill="#aaaaaa"/>
<circle cx="450.31" cy="193.06" r="2.05" fill="#aaaaaa"/>
<circle cx="450.31" cy="190.54" r="2.05" fill="#aaaaaa"/>
<circle cx="487.02" cy="249.44" r="2.05" fill="#aaaaaa"/>
<circle cx="487.02" cy="244.66" r="2.05" fill="#aaaaaa"/>
<circle cx="487.02" cy="238.08" r="2.05" fill="#aaaaaa"/>
<circle cx="487.02" cy="227.02" r="2.05" fill="#aaaaaa"/>
<circle cx="487.02" cy="226.54" r="2.05" fill="#aaaaaa"/>
<circle cx="487.02" cy="225.81" r="2.05" fill="#aaaaaa"/>
<circle cx="487.02" cy="224.95" r="2.05" fill="#aaaaaa"/>
<circle cx="487.02" cy="223.99" r="2.05" fill="#aaaaaa"/>
<circle cx="487.02" cy="222.95" r="2.05" fill="#aaaaaa"/>
<circle cx="487.02" cy="221.83" r="2.05" fill="#aaaaaa"/>
<circle cx="487.02" cy="220.66" r="2.05" fill="#aaaaaa"/>
<circle cx="487.02" cy="219.42" r="2.05" fill="#aaaaaa"/>
<circle cx="487.02" cy="218.14" r="2.05" fill="#aaaaaa"/>
<circle cx="487.02" cy="216.81" r="2.05" fill="#aaaaaa"/>
<circle cx="487.02" cy="215.44" r="2.05" fill="#aaaaaa"/>
<circle cx="487.02" cy="214.02" r="2.05" fill="#aaaaaa"/>
<circle cx="487.02" cy="212.57" r="2.05" fill="#aaaaaa"/>
<circle cx="487.02" cy="211.07" r="2.05" fill="#aaaaaa"/>
<circle cx="487.02" cy="209.55" r="2.05" fill="#aaaaaa"/>
<circle cx="487.02" cy="207.99" r="2.05" fill="#aaaaaa"/>
<circle cx="487.02" cy="206.39" r="2.05" fill="#aaaaaa"/>
<circle cx="487.02" cy="204.77" r="2.05" fill="#aaaaaa"/>
<circle cx="487.02" cy="203.12" r="2.05" fill="#aaaaaa"/>
<circle cx="487.02" cy="201.44" r="2.05" fill="#aaaaaa"/>
<circle cx="487.02" cy="199.73" r="2.05" fill="#aaaaaa"/>
<circle cx="487.02" cy="197.99" r="2.05" fill="#aaaaaa"/>
<circle cx="487.02" cy="196.23" r="2.05" fill="#aaaaaa"/>
<circle cx="487.02" cy="194.44" r="2.05" fill="#aaaaaa"/>
<circle cx="487.02" cy="192.63" r="2.05" fill="#aaaaaa"/>
<circle cx="487.02" cy="186.35" r="2.05" fill="#aaaaaa"/>
<circle cx="487.02" cy="179.48" r="2.05" fill="#aaaaaa"/>
<circle cx="523.73" cy="248.55" r="2.05" fill="#aaaaaa"/>
<circle cx="523.73" cy="242.57" r="2.05" fill="#aaaaaa"/>
<circle cx="523.73" cy="236.89" r="2.05" fill="#aaaaaa"/>
<circle cx="523.73" cy="224.33" r="2.05" fill="#aaaaaa"/>
<circle cx="523.73" cy="224.13" r="2.05" fill="#aaaaaa"/>
<circle cx="523.73" cy="223.66" r="2.05" fill="#aaaaaa"/>
<circle cx="523.73" cy="222.95" r="2.05" fill="#aaaaaa"/>
<circle cx="523.73" cy="222.02" r="2.05" fill="#aaaaaa"/>
<circle cx="523.73" cy="220.88" r="2.05" fill="#aaaaaa"/>
<circle cx="523.73" cy="219.55" r="2.05" fill="#aaaaaa"/>
<circle cx="523.73" cy="218.04" r="2.05" fill="#aaaaaa"/>
<circle cx="523.73" cy="216.34" r="2.05" fill="#aaaaaa"/>
<circle cx="523.73" cy="214.46" r="2.05" fill="#aaaaaa"/>
<circle cx="523.73" cy="204.59" r="2.05" fill="#aaaaaa"/>
<circle cx="523.73" cy="204.46" r="2.05" fill="#aaaaaa"/>
<circle cx="523.73" cy="204.14" r="2.05" fill="#aaaaaa"/>
<circle cx="523.73" cy="203.65" r="2.05" fill="#aaaaaa"/>
<circle cx="523.73" cy="203.01" r="2.05" fill="#aaaaaa"/>
<circle cx="523.73" cy="202.23" r="2.05" fill="#aaaaaa"/>
<circle cx="523.73" cy="201.32" r="2.05" fill="#aaaaaa"/>
<circle cx="523.73" cy="200.27" r="2.05" fill="#aaaaaa"/>
<circle cx="523.73" cy="199.11" r="2.05" fill="#aaaaaa"/>
<circle cx="523.73" cy="197.82" r="2.05" fill="#aaaaaa"/>
<circle cx="523.73" cy="196.41" r="2.05" fill="#aaaaaa"/>
<circle cx="523.73" cy="194.89" r="2.05" fill="#aaaaaa"/>
<circle cx="523.73" cy="193.25" r="2.05" fill="#aaaaaa"/>
<circle cx="523.73" cy="191.50" r="2.05" fill="#aaaaaa"/>
<circle cx="523.73" cy="189.64" r="2.05" fill="#aaaaaa"/>
<circle cx="523.73" cy="180.08" r="2.05" fill="#aaaaaa"/>
<circle cx="523.73" cy="177.68" r="2.05" fill="#aaaaaa"/>
<circle cx="523.73" cy="171.70" r="2.05" fill="#aaaaaa"/>
<circle cx="560.44" cy="247.95" r="2.05" fill="#aaaaaa"/>
<circle cx="560.44" cy="236.89" r="2.05" fill="#aaaaaa"/>
<circle cx="560.44" cy="225.52" r="2.05" fill="#aaaaaa"/>
<circle cx="560.44" cy="224.60" r="2.05" fill="#aaaaaa"/>
<circle cx="560.44" cy="222.91" r="2.05" fill="#aaaaaa"/>
<circle cx="560.44" cy="220.74" r="2.05" fill="#aaaaaa"/>
<circle cx="560.44" cy="214.46" r="2.05" fill="#aaaaaa"/>
<circle cx="560.44" cy="214.05" r="2.05" fill="#aaaaaa"/>
<circle cx="560.44" cy="213.31" r="2.05" fill="#aaaaaa"/>
<circle cx="560.44" cy="212.35" r="2.05" fill="#aaaaaa"/>
<circle cx="560.44" cy="211.22" r="2.05" fill="#aaaaaa"/>
<circle cx="560.44" cy="209.94" r="2.05" fill="#aaaaaa"/>
<circle cx="560.44" cy="208.52" r="2.05" fill="#aaaaaa"/>
<circle cx="560.44" cy="206.99" r="2.05" fill="#aaaaaa"/>
<circle cx="560.44" cy="202.50" r="2.05" fill="#aaaaaa"/>
<circle cx="560.44" cy="197.12" r="2.05" fill="#aaaaaa"/>
<circle cx="560.44" cy="196.88" r="2.05" fill="#aaaaaa"/>
<circle cx="560.44" cy="196.46" r="2.05" fill="#aaaaaa"/>
<circle cx="560.44" cy="195.90" r="2.05" fill="#aaaaaa"/>
<circle cx="560.44" cy="195.25" r="2.05" fill="#aaaaaa"/>
<circle cx="560.44" cy="194.51" r="2.05" fill="#aaaaaa"/>
<circle cx="560.44" cy="193.69" r="2.05" fill="#aaaaaa"/>
<circle cx="560.44" cy="192.81" r="2.05" fill="#aaaaaa"/>
<circle cx="560.44" cy="191.85" r="2.05" fill="#aaaaaa"/>
<circle cx="560.44" cy="190.84" r="2.05" fill="#aaaaaa"/>
<circle cx="560.44" cy="185.46" r="2.05" fill="#aaaaaa"/>
<circle cx="560.44" cy="178.58" r="2.05" fill="#aaaaaa"/>
<circle cx="560.44" cy="177.83" r="2.05" fill="#aaaaaa"/>
<circle cx="560.44" cy="176.46" r="2.05" fill="#aaaaaa"/>
<circle cx="560.44" cy="174.69" r="2.05" fill="#aaaaaa"/>
<circle cx="560.44" cy="167.22" r="2.05" fill="#aaaaaa"/>
<circle cx="597.15" cy="246.75" r="2.05" fill="#aaaaaa"/>
<circle cx="597.15" cy="233.00" r="2.05" fill="#aaaaaa"/>
<circle cx="597.15" cy="219.54" r="2.05" fill="#aaaaaa"/>
<circle cx="597.15" cy="217.49" r="2.05" fill="#aaaaaa"/>
<circle cx="597.15" cy="215.54" r="2.05" fill="#aaaaaa"/>
<circle cx="597.15" cy="213.62" r="2.05" fill="#aaaaaa"/>
<circle cx="597.15" cy="211.74" r="2.05" fill="#aaaaaa"/>
<circle cx="597.15" cy="209.87" r="2.05" fill="#aaaaaa"/>
<circle cx="597.15" cy="208.01" r="2.05" fill="#aaaaaa"/>
<circle cx="597.15" cy="206.17" r="2.05" fill="#aaaaaa"/>
<circle cx="597.15" cy="204.34" r="2.05" fill="#aaaaaa"/>
<circle cx="597.15" cy="202.52" r="2.05" fill="#aaaaaa"/>
<circle cx="597.15" cy="200.70" r="2.05" fill="#aaaaaa"/>
<circle cx="597.15" cy="198.89" r="2.05" fill="#aaaaaa"/>
<circle cx="597.15" cy="197.09" r="2.05" fill="#aaaaaa"/>
<circle cx="597.15" cy="195.29" r="2.05" fill="#aaaaaa"/>
<circle cx="597.15" cy="193.50" r="2.05" fill="#aaaaaa"/>
<circle cx="597.15" cy="191.71" r="2.05" fill="#aaaaaa"/>
<circle cx="597.15" cy="189.93" r="2.05" fill="#aaaaaa"/>
<circle cx="597.15" cy="188.15" r="2.05" fill="#aaaaaa"/>
<circle cx="597.15" cy="186.38" r="2.05" fill="#aaaaaa"/>
<circle cx="597.15" cy="184.60" r="2.05" fill="#aaaaaa"/>
<circle cx="597.15" cy="182.84" r="2.05" fill="#aaaaaa"/>
<circle cx="597.15" cy="181.07" r="2.05" fill="#aaaaaa"/>
<circle cx="597.15" cy="179.31" r="2.05" fill="#aaaaaa"/>
<circle cx="597.15" cy="177.56" r="2.05" fill="#aaaaaa"/>
<circle cx="597.15" cy="175.80" r="2.05" fill="#aaaaaa"/>
<circle cx="597.15" cy="174.05" r="2.05" fill="#aaaaaa"/>
<circle cx="597.15" cy="172.30" r="2.05" fill="#aaaaaa"/>
<circle cx="597.15" cy="163.63" r="2.05" fill="#aaaaaa"/>
<circle cx="597.15" cy="148.68" r="2.05" fill="#aaaaaa"/>
<polyline fill="none" stroke="#1e3cff" stroke-width="2.5" points="46.50,285.81 83.21,280.19 119.92,274.58 156.63,269.00 193.34,263.47 230.05,257.98 266.76,252.56 303.47,247.21 340.18,241.92 376.89,236.71 413.60,231.57 450.31,226.49 487.02,221.46 523.73,216.47 560.44,211.51 597.15,206.57"/>
<polyline fill="none" stroke="#000" stroke-width="1.1" points="46.50,284.83 83.21,278.16 119.92,272.83 156.63,267.75 193.34,262.67 230.05,257.51 266.76,251.89 303.47,244.32 340.18,237.07 376.89,231.15 413.60,224.24 450.31,219.16 487.02,213.34 523.73,208.07 560.44,202.50 597.15,195.81"/>
<circle cx="46.50" cy="284.83" r="2.25" fill="#000"/>
<circle cx="83.21" cy="278.16" r="2.25" fill="#000"/>
<circle cx="119.92" cy="272.83" r="2.25" fill="#000"/>
<circle cx="156.63" cy="267.75" r="2.25" fill="#000"/>
<circle cx="193.34" cy="262.67" r="2.25" fill="#000"/>
<circle cx="230.05" cy="257.51" r="2.25" fill="#000"/>
<circle cx="266.76" cy="251.89" r="2.25" fill="#000"/>
<circle cx="303.47" cy="244.32" r="2.25" fill="#000"/>
<circle cx="340.18" cy="237.07" r="2.25" fill="#000"/>
<circle cx="376.89" cy="231.15" r="2.25" fill="#000"/>
<circle cx="413.60" cy="224.24" r="2.25" fill="#000"/>
<circle cx="450.31" cy="219.16" r="2.25" fill="#000"/>
<circle cx="487.02" cy="213.34" r="2.25" fill="#000"/>
<circle cx="523.73" cy="208.07" r="2.25" fill="#000"/>
<circle cx="560.44" cy="202.50" r="2.25" fill="#000"/>
<circle cx="597.15" cy="195.81" r="2.25" fill="#000"/>
</g>
<line x1="63.3" x2="102.7" y1="127.1" y2="127.1" stroke="#b0b0b0" stroke-width="1.2"/>
<circle cx="63.3" cy="127.1" r="2.3" fill="#aaaaaa"/><circle cx="102.7" cy="127.1" r="2.3" fill="#aaaaaa"/>
<rect x="271" y="122" width="40.1" height="4.5" fill="#f7c778"/>
<rect x="271" y="126.6" width="40.1" height="4.9" fill="#76ee00"/>
<line x1="271.5" x2="310.7" y1="126.6" y2="126.6" stroke="#000" stroke-width="1"/>
<circle cx="271.5" cy="126.8" r="2.4" fill="#000"/><circle cx="310.7" cy="126.8" r="2.4" fill="#000"/>
<line x1="479.4" x2="518.8" y1="126.9" y2="126.9" stroke="#1e3cff" stroke-width="2.5" stroke-linecap="round"/>
<rect x="57.8" y="140.8" width="283.7" height="28" fill="none" stroke="#555" stroke-width="1.1"/>
<rect x="46.5" y="98.7" width="551" height="213.7" fill="none" stroke="#000" stroke-width="1.5"/>
<line x1="42.2" x2="46.5" y1="291.60" y2="291.60" stroke="#000" stroke-width="1.1"/>
<line x1="42.2" x2="46.5" y1="232.24" y2="232.24" stroke="#000" stroke-width="1.1"/>
<line x1="42.2" x2="46.5" y1="172.88" y2="172.88" stroke="#000" stroke-width="1.1"/>
<line x1="42.2" x2="46.5" y1="113.52" y2="113.52" stroke="#000" stroke-width="1.1"/>
<line x1="46.50" x2="46.50" y1="312.4" y2="315.8" stroke="#000" stroke-width="1.1"/>
<line x1="119.92" x2="119.92" y1="312.4" y2="315.8" stroke="#000" stroke-width="1.1"/>
<line x1="193.34" x2="193.34" y1="312.4" y2="315.8" stroke="#000" stroke-width="1.1"/>
<line x1="266.76" x2="266.76" y1="312.4" y2="315.8" stroke="#000" stroke-width="1.1"/>
<line x1="340.18" x2="340.18" y1="312.4" y2="315.8" stroke="#000" stroke-width="1.1"/>
<line x1="413.60" x2="413.60" y1="312.4" y2="315.8" stroke="#000" stroke-width="1.1"/>
<line x1="487.02" x2="487.02" y1="312.4" y2="315.8" stroke="#000" stroke-width="1.1"/>
<line x1="560.44" x2="560.44" y1="312.4" y2="315.8" stroke="#000" stroke-width="1.1"/>
<rect x="46.5" y="340.7" width="551" height="112.6" fill="none" stroke="#000" stroke-width="1.6"/>
<g clip-path="url(#c2b)">
<rect x="33.70" y="397.90" width="26.0" height="55.40" fill="#76ee00"/>
<rect x="70.41" y="401.70" width="26.0" height="51.60" fill="#76ee00"/>
<rect x="107.12" y="412.00" width="26.0" height="41.30" fill="#76ee00"/>
<rect x="143.83" y="414.00" width="26.0" height="39.30" fill="#76ee00"/>
<rect x="180.54" y="414.00" width="26.0" height="39.30" fill="#76ee00"/>
<rect x="217.25" y="413.30" width="26.0" height="40.00" fill="#76ee00"/>
<rect x="253.96" y="409.80" width="26.0" height="43.50" fill="#76ee00"/>
<rect x="290.67" y="394.70" width="26.0" height="58.60" fill="#76ee00"/>
<rect x="327.38" y="397.20" width="26.0" height="56.10" fill="#76ee00"/>
<rect x="364.09" y="407.50" width="26.0" height="45.80" fill="#76ee00"/>
<rect x="400.80" y="399.80" width="26.0" height="53.50" fill="#76ee00"/>
<rect x="437.51" y="414.00" width="26.0" height="39.30" fill="#76ee00"/>
<rect x="474.22" y="408.20" width="26.0" height="45.10" fill="#76ee00"/>
<rect x="510.93" y="412.50" width="26.0" height="40.80" fill="#76ee00"/>
<rect x="547.64" y="410.20" width="26.0" height="43.10" fill="#76ee00"/>
<rect x="584.35" y="401.50" width="26.0" height="51.80" fill="#76ee00"/>
<line x1="51.2" x2="597" y1="453.30" y2="453.30" stroke="#222" stroke-width="0.6" stroke-dasharray="0.8 4.26" opacity="0.7"/>
<line x1="51.2" x2="597" y1="430.32" y2="430.32" stroke="#222" stroke-width="0.6" stroke-dasharray="0.8 4.26" opacity="0.7"/>
<line x1="51.2" x2="597" y1="407.35" y2="407.35" stroke="#222" stroke-width="0.6" stroke-dasharray="0.8 4.26" opacity="0.7"/>
<line x1="51.2" x2="597" y1="384.38" y2="384.38" stroke="#222" stroke-width="0.6" stroke-dasharray="0.8 4.26" opacity="0.7"/>
<line x1="51.2" x2="597" y1="361.40" y2="361.40" stroke="#222" stroke-width="0.6" stroke-dasharray="0.8 4.26" opacity="0.7"/>
</g>
<line x1="45.7" x2="598.3" y1="453.75" y2="453.75" stroke="#000" stroke-width="0.9" opacity="0.85"/>
<line x1="42.2" x2="46.5" y1="453.30" y2="453.30" stroke="#000" stroke-width="1.1"/>
<line x1="42.2" x2="46.5" y1="430.32" y2="430.32" stroke="#000" stroke-width="1.1"/>
<line x1="42.2" x2="46.5" y1="407.35" y2="407.35" stroke="#000" stroke-width="1.1"/>
<line x1="42.2" x2="46.5" y1="384.38" y2="384.38" stroke="#000" stroke-width="1.1"/>
<line x1="42.2" x2="46.5" y1="361.40" y2="361.40" stroke="#000" stroke-width="1.1"/>
<line x1="46.50" x2="46.50" y1="453.3" y2="456.6" stroke="#000" stroke-width="1.1"/>
<line x1="119.92" x2="119.92" y1="453.3" y2="456.6" stroke="#000" stroke-width="1.1"/>
<line x1="193.34" x2="193.34" y1="453.3" y2="456.6" stroke="#000" stroke-width="1.1"/>
<line x1="266.76" x2="266.76" y1="453.3" y2="456.6" stroke="#000" stroke-width="1.1"/>
<line x1="340.18" x2="340.18" y1="453.3" y2="456.6" stroke="#000" stroke-width="1.1"/>
<line x1="413.60" x2="413.60" y1="453.3" y2="456.6" stroke="#000" stroke-width="1.1"/>
<line x1="487.02" x2="487.02" y1="453.3" y2="456.6" stroke="#000" stroke-width="1.1"/>
<line x1="560.44" x2="560.44" y1="453.3" y2="456.6" stroke="#000" stroke-width="1.1"/>
<text id="l4" x="529.64" y="130.90" font-size="11.70" textLength="43.94" lengthAdjust="spacingAndGlyphs" fill="#000" stroke="#fff" stroke-width="0.12">Normal</text>
<text id="n90" x="186.68" y="153.20" font-size="11.20" textLength="15.60" lengthAdjust="spacingAndGlyphs" fill="#000" stroke="#fff" stroke-width="0.12">90</text>
<text id="n50" x="242.92" y="153.20" font-size="11.20" textLength="15.05" lengthAdjust="spacingAndGlyphs" fill="#000" stroke="#fff" stroke-width="0.12">50</text>
<text id="n10" x="299.22" y="153.20" font-size="11.20" textLength="15.63" lengthAdjust="spacingAndGlyphs" fill="#000" stroke="#fff" stroke-width="0.12">10</text>
<text id="y0" x="31.16" y="296.60" font-size="13.70" textLength="8.23" lengthAdjust="spacingAndGlyphs" fill="#000">0</text>
<text id="y2" x="30.80" y="237.24" font-size="13.70" textLength="8.82" lengthAdjust="spacingAndGlyphs" fill="#000">2</text>
<text id="y4" x="31.31" y="177.88" font-size="13.70" textLength="8.02" lengthAdjust="spacingAndGlyphs" fill="#000">4</text>
<text id="y6" x="30.88" y="118.52" font-size="13.70" textLength="8.71" lengthAdjust="spacingAndGlyphs" fill="#000">6</text>
<text id="yb0.4" x="19.46" y="366.35" font-size="13.70" textLength="18.84" lengthAdjust="spacingAndGlyphs" fill="#000">0.4</text>
<text id="yb0.3" x="19.66" y="389.32" font-size="13.70" textLength="19.19" lengthAdjust="spacingAndGlyphs" fill="#000">0.3</text>
<text id="yb0.2" x="19.65" y="412.30" font-size="13.70" textLength="19.24" lengthAdjust="spacingAndGlyphs" fill="#000">0.2</text>
<text id="yb0.1" x="19.72" y="435.27" font-size="13.70" textLength="19.02" lengthAdjust="spacingAndGlyphs" fill="#000">0.1</text>
<text id="yb0" x="31.06" y="458.25" font-size="13.70" textLength="7.51" lengthAdjust="spacingAndGlyphs" fill="#000">0</text>
<text id="dt1" x="33.87" y="326.30" font-size="11.90" textLength="25.62" lengthAdjust="spacingAndGlyphs" fill="#000" stroke="#000" stroke-width="0.2">1APR</text>
<text id="db1" x="33.87" y="466.50" font-size="11.90" textLength="25.62" lengthAdjust="spacingAndGlyphs" fill="#000" stroke="#000" stroke-width="0.2">1APR</text>
<text id="dt3" x="107.66" y="326.30" font-size="11.90" textLength="25.36" lengthAdjust="spacingAndGlyphs" fill="#000" stroke="#000" stroke-width="0.2">3APR</text>
<text id="db3" x="107.66" y="466.50" font-size="11.90" textLength="25.36" lengthAdjust="spacingAndGlyphs" fill="#000" stroke="#000" stroke-width="0.2">3APR</text>
<text id="dt5" x="181.29" y="326.30" font-size="11.90" textLength="25.17" lengthAdjust="spacingAndGlyphs" fill="#000" stroke="#000" stroke-width="0.2">5APR</text>
<text id="db5" x="181.29" y="466.50" font-size="11.90" textLength="25.17" lengthAdjust="spacingAndGlyphs" fill="#000" stroke="#000" stroke-width="0.2">5APR</text>
<text id="dt7" x="254.03" y="326.30" font-size="11.90" textLength="25.67" lengthAdjust="spacingAndGlyphs" fill="#000" stroke="#000" stroke-width="0.2">7APR</text>
<text id="db7" x="254.03" y="466.50" font-size="11.90" textLength="25.67" lengthAdjust="spacingAndGlyphs" fill="#000" stroke="#000" stroke-width="0.2">7APR</text>
<text id="dt9" x="327.90" y="326.30" font-size="11.90" textLength="25.48" lengthAdjust="spacingAndGlyphs" fill="#000" stroke="#000" stroke-width="0.2">9APR</text>
<text id="db9" x="327.90" y="466.50" font-size="11.90" textLength="25.48" lengthAdjust="spacingAndGlyphs" fill="#000" stroke="#000" stroke-width="0.2">9APR</text>
<text id="dt11" x="398.31" y="326.30" font-size="11.90" textLength="31.64" lengthAdjust="spacingAndGlyphs" fill="#000" stroke="#000" stroke-width="0.2">11APR</text>
<text id="db11" x="398.31" y="466.50" font-size="11.90" textLength="31.64" lengthAdjust="spacingAndGlyphs" fill="#000" stroke="#000" stroke-width="0.2">11APR</text>
<text id="dt13" x="471.87" y="326.30" font-size="11.90" textLength="31.32" lengthAdjust="spacingAndGlyphs" fill="#000" stroke="#000" stroke-width="0.2">13APR</text>
<text id="db13" x="471.87" y="466.50" font-size="11.90" textLength="31.32" lengthAdjust="spacingAndGlyphs" fill="#000" stroke="#000" stroke-width="0.2">13APR</text>
<text id="dt15" x="544.99" y="326.30" font-size="11.90" textLength="31.94" lengthAdjust="spacingAndGlyphs" fill="#000" stroke="#000" stroke-width="0.2">15APR</text>
<text id="db15" x="544.99" y="466.50" font-size="11.90" textLength="31.94" lengthAdjust="spacingAndGlyphs" fill="#000" stroke="#000" stroke-width="0.2">15APR</text>
<text id="yrt" x="33.70" y="337.30" font-size="11.90" textLength="25.52" lengthAdjust="spacingAndGlyphs" fill="#000" stroke="#000" stroke-width="0.2">2025</text>
<text id="yrb" x="33.70" y="477.50" font-size="11.90" textLength="25.52" lengthAdjust="spacingAndGlyphs" fill="#000" stroke="#000" stroke-width="0.2">2025</text>
<text id="t1_0" x="167.44" y="21.60" font-size="18.40" textLength="54.85" lengthAdjust="spacingAndGlyphs" style="letter-spacing:1.10px;" fill="#000" stroke="#fff" stroke-width="0.35">Brazil</text>
<text id="t1_1" x="231.57" y="21.60" font-size="18.40" textLength="93.18" lengthAdjust="spacingAndGlyphs" style="letter-spacing:1.10px;" fill="#000" stroke="#fff" stroke-width="0.35">Soybeans</text>
<text id="t1_2" x="333.11" y="21.60" font-size="18.40" textLength="122.27" lengthAdjust="spacingAndGlyphs" style="letter-spacing:1.10px;" fill="#000" stroke="#fff" stroke-width="0.35">Precipitation</text>
<text id="t2_0" x="96.58" y="44.80" font-size="15.30" textLength="68.87" lengthAdjust="spacingAndGlyphs" style="letter-spacing:0.92px;" fill="#000" stroke="#fff" stroke-width="0.22749999999999998">Forecast</text>
<text id="t2_1" x="173.76" y="44.80" font-size="15.30" textLength="99.62" lengthAdjust="spacingAndGlyphs" style="letter-spacing:0.92px;" fill="#000" stroke="#fff" stroke-width="0.22749999999999998">Precipitation</text>
<text id="t2_2" x="280.95" y="44.80" font-size="15.30" textLength="80.90" lengthAdjust="spacingAndGlyphs" style="letter-spacing:0.92px;" fill="#000" stroke="#fff" stroke-width="0.22749999999999998">Compared</text>
<text id="t2_3" x="370.53" y="44.80" font-size="15.30" textLength="16.94" lengthAdjust="spacingAndGlyphs" style="letter-spacing:0.92px;" fill="#000" stroke="#fff" stroke-width="0.22749999999999998">to</text>
<text id="t2_4" x="395.03" y="44.80" font-size="15.30" textLength="56.75" lengthAdjust="spacingAndGlyphs" style="letter-spacing:0.92px;" fill="#000" stroke="#fff" stroke-width="0.22749999999999998">Normal</text>
<text id="t2_5" x="459.17" y="44.80" font-size="15.30" textLength="65.90" lengthAdjust="spacingAndGlyphs" style="letter-spacing:0.92px;" fill="#000" stroke="#fff" stroke-width="0.22749999999999998">(inches)</text>
<text id="t3_0" x="170.25" y="64.40" font-size="15.30" textLength="167.80" lengthAdjust="spacingAndGlyphs" style="letter-spacing:0.92px;" fill="#000" stroke="#fff" stroke-width="0.22749999999999998">Production–Weighted</text>
<text id="t3_1" x="346.39" y="64.40" font-size="15.30" textLength="34.64" lengthAdjust="spacingAndGlyphs" style="letter-spacing:0.92px;" fill="#000" stroke="#fff" stroke-width="0.22749999999999998">Area</text>
<text id="t3_2" x="389.47" y="64.40" font-size="15.30" textLength="62.29" lengthAdjust="spacingAndGlyphs" style="letter-spacing:0.92px;" fill="#000" stroke="#fff" stroke-width="0.22749999999999998">Average</text>
<text id="t4_0" x="134.77" y="84.50" font-size="15.30" textLength="65.28" lengthAdjust="spacingAndGlyphs" style="letter-spacing:0.92px;" fill="#000" stroke="#fff" stroke-width="0.22749999999999998">15–Day</text>
<text id="t4_1" x="208.55" y="84.50" font-size="15.30" textLength="72.42" lengthAdjust="spacingAndGlyphs" style="letter-spacing:0.92px;" fill="#000" stroke="#fff" stroke-width="0.22749999999999998">Forecast</text>
<text id="t4_2" x="289.35" y="84.50" font-size="15.30" textLength="81.67" lengthAdjust="spacingAndGlyphs" style="letter-spacing:0.92px;" fill="#000" stroke="#fff" stroke-width="0.22749999999999998">Beginning</text>
<text id="t4_3" x="379.79" y="84.50" font-size="15.30" fill="#000" stroke="#fff" stroke-width="0.22749999999999998">1</text>
<text id="t4_4" x="399.42" y="84.50" font-size="15.30" textLength="34.69" lengthAdjust="spacingAndGlyphs" style="letter-spacing:0.92px;" fill="#000" stroke="#fff" stroke-width="0.22749999999999998">April</text>
<text id="t4_5" x="444.83" y="84.50" font-size="15.30" textLength="43.54" lengthAdjust="spacingAndGlyphs" style="letter-spacing:0.92px;" fill="#000" stroke="#fff" stroke-width="0.22749999999999998">2025</text>
<text id="l1_0" x="57.84" y="115.20" font-size="11.70" textLength="49.95" lengthAdjust="spacingAndGlyphs" style="letter-spacing:0.70px;" fill="#000" stroke="#fff" stroke-width="0.12">National</text>
<text id="l1_1" x="115.05" y="115.20" font-size="11.70" textLength="47.45" lengthAdjust="spacingAndGlyphs" style="letter-spacing:0.70px;" fill="#000" stroke="#fff" stroke-width="0.12">Weather</text>
<text id="l1_2" x="169.37" y="115.20" font-size="11.70" textLength="44.73" lengthAdjust="spacingAndGlyphs" style="letter-spacing:0.70px;" fill="#000" stroke="#fff" stroke-width="0.12">Service</text>
<text id="l1_3" x="220.87" y="115.20" font-size="11.70" textLength="37.88" lengthAdjust="spacingAndGlyphs" style="letter-spacing:0.70px;" fill="#000" stroke="#fff" stroke-width="0.12">Global</text>
<text id="l1_4" x="264.73" y="115.20" font-size="11.70" textLength="53.29" lengthAdjust="spacingAndGlyphs" style="letter-spacing:0.70px;" fill="#000" stroke="#fff" stroke-width="0.12">Forecast</text>
<text id="l1_5" x="324.35" y="115.20" font-size="11.70" textLength="44.60" lengthAdjust="spacingAndGlyphs" style="letter-spacing:0.70px;" fill="#000" stroke="#fff" stroke-width="0.12">System</text>
<text id="l2_0" x="113.85" y="131.00" font-size="11.70" textLength="58.90" lengthAdjust="spacingAndGlyphs" style="letter-spacing:0.70px;" fill="#000" stroke="#fff" stroke-width="0.12">Ensemble</text>
<text id="l2_1" x="179.43" y="131.00" font-size="11.70" textLength="55.46" lengthAdjust="spacingAndGlyphs" style="letter-spacing:0.70px;" fill="#000" stroke="#fff" stroke-width="0.12">Members</text>
<text id="l3_0" x="321.82" y="131.00" font-size="11.70" textLength="58.99" lengthAdjust="spacingAndGlyphs" style="letter-spacing:0.70px;" fill="#000" stroke="#fff" stroke-width="0.12">Ensemble</text>
<text id="l3_1" x="386.87" y="131.00" font-size="11.70" textLength="48.94" lengthAdjust="spacingAndGlyphs" style="letter-spacing:0.70px;" fill="#000" stroke="#fff" stroke-width="0.12">Average</text>
<text id="b1_0" x="72.63" y="153.30" font-size="11.20" textLength="44.29" lengthAdjust="spacingAndGlyphs" style="letter-spacing:0.67px;" fill="#000" stroke="#fff" stroke-width="0.12">Percent</text>
<text id="b1_1" x="122.48" y="153.30" font-size="11.20" textLength="11.29" lengthAdjust="spacingAndGlyphs" style="letter-spacing:0.67px;" fill="#000" stroke="#fff" stroke-width="0.12">of</text>
<text id="b1_2" x="140.26" y="153.30" font-size="11.20" textLength="30.65" lengthAdjust="spacingAndGlyphs" style="letter-spacing:0.67px;" fill="#000" stroke="#fff" stroke-width="0.12">Crop:</text>
<text id="b2_0" x="62.88" y="164.70" font-size="11.20" textLength="49.42" lengthAdjust="spacingAndGlyphs" style="letter-spacing:0.67px;" fill="#000" stroke="#fff" stroke-width="0.12">Receives</text>
<text id="b2_1" x="118.34" y="164.70" font-size="11.20" textLength="12.61" lengthAdjust="spacingAndGlyphs" style="letter-spacing:0.67px;" fill="#000" stroke="#fff" stroke-width="0.12">at</text>
<text id="b2_2" x="135.80" y="164.70" font-size="11.20" textLength="35.18" lengthAdjust="spacingAndGlyphs" style="letter-spacing:0.67px;" fill="#000" stroke="#fff" stroke-width="0.12">Least:</text>
<text id="i1_0" x="181.32" y="164.70" font-size="11.20" textLength="17.31" lengthAdjust="spacingAndGlyphs" style="letter-spacing:0.67px;" fill="#000" stroke="#fff" stroke-width="0.12">2.1</text>
<text id="i1_1" x="206.25" y="164.70" font-size="11.20" textLength="14.21" lengthAdjust="spacingAndGlyphs" style="letter-spacing:0.67px;" fill="#000" stroke="#fff" stroke-width="0.12">in.</text>
<text id="i2_0" x="237.54" y="164.70" font-size="11.20" textLength="17.37" lengthAdjust="spacingAndGlyphs" style="letter-spacing:0.67px;" fill="#000" stroke="#fff" stroke-width="0.12">3.1</text>
<text id="i2_1" x="262.25" y="164.70" font-size="11.20" textLength="14.31" lengthAdjust="spacingAndGlyphs" style="letter-spacing:0.67px;" fill="#000" stroke="#fff" stroke-width="0.12">in.</text>
<text id="i3_0" x="294.08" y="164.70" font-size="11.20" textLength="17.85" lengthAdjust="spacingAndGlyphs" style="letter-spacing:0.67px;" fill="#000" stroke="#fff" stroke-width="0.12">4.5</text>
<text id="i3_1" x="318.74" y="164.70" font-size="11.20" textLength="14.14" lengthAdjust="spacingAndGlyphs" style="letter-spacing:0.67px;" fill="#000" stroke="#fff" stroke-width="0.12">in.</text>
<text id="bt_0" x="57.44" y="355.70" font-size="11.70" textLength="59.28" lengthAdjust="spacingAndGlyphs" style="letter-spacing:0.70px;" fill="#000" stroke="#fff" stroke-width="0.12">Ensemble</text>
<text id="bt_1" x="122.74" y="355.70" font-size="11.70" textLength="48.78" lengthAdjust="spacingAndGlyphs" style="letter-spacing:0.70px;" fill="#000" stroke="#fff" stroke-width="0.12">Average</text>
<text id="bt_2" x="177.89" y="355.70" font-size="11.70" textLength="29.33" lengthAdjust="spacingAndGlyphs" style="letter-spacing:0.70px;" fill="#000" stroke="#fff" stroke-width="0.12">Daily</text>
<text id="bt_3" x="213.18" y="355.70" font-size="11.70" textLength="77.21" lengthAdjust="spacingAndGlyphs" style="letter-spacing:0.70px;" fill="#000" stroke="#fff" stroke-width="0.12">Precipitation</text>
<text id="bc_0" x="461.84" y="355.80" font-size="14.60" fill="#000" stroke="#000" stroke-width="0.25">©</text>
<text id="bc_1" x="477.05" y="354.50" font-size="11.70" textLength="33.04" lengthAdjust="spacingAndGlyphs" style="letter-spacing:0.70px;" fill="#000" stroke="#fff" stroke-width="0.12">World</text>
<text id="bc_2" x="515.75" y="354.50" font-size="11.70" textLength="15.87" lengthAdjust="spacingAndGlyphs" style="letter-spacing:0.70px;" fill="#000" stroke="#fff" stroke-width="0.12">Ag</text>
<text id="bc_3" x="537.91" y="354.50" font-size="11.70" textLength="49.12" lengthAdjust="spacingAndGlyphs" style="letter-spacing:0.70px;" fill="#000" stroke="#fff" stroke-width="0.12">Weather</text>
<text id="in_t" x="12.10" y="220.85" font-size="12.30" textLength="41.73" lengthAdjust="spacing" transform="rotate(-90 12.10 220.85)" fill="#000" stroke="#fff" stroke-width="0.12">inches</text>
<text id="in_b" x="11.40" y="418.36" font-size="12.30" textLength="42.18" lengthAdjust="spacing" transform="rotate(-90 11.40 418.36)" fill="#000" stroke="#fff" stroke-width="0.12">inches</text>
</svg>
</body></html>
